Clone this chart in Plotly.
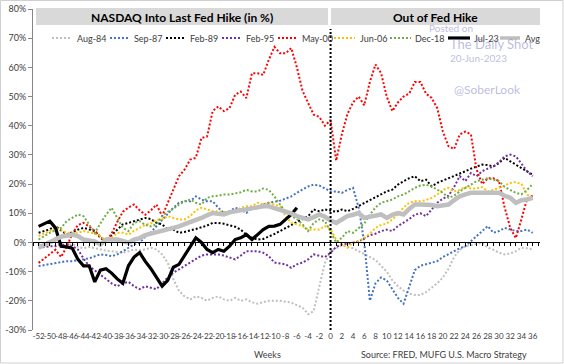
import plotly.graph_objects as go

weeks = list(range(-52, 37))
tick_weeks = list(range(-52, 37, 2))
tick_labels = [str(w) for w in tick_weeks]
y_ticks = list(range(-30, 81, 10))
y_labels = [f"{v}%" for v in y_ticks]

aug84 = [-0.7, 0, 0.5, 0.3, -0.5, -1, -0.5, -1.5, -2, -1.5,
         -2, -2.5, -2.8, -3, -3.2, -3.5, -3, -2.4, -2.7, -2.4,
         -1.8, -2.4, -4.1, -7, -12.6, -16.5, -18.5, -19.5, -18.5, -19,
         -20, -19, -18.5, -19.5, -20, -19, -20, -19.5, -20.5, -21,
         -20.5, -20, -20, -20, -20.3, -20.6, -21.5, -22.3, -24.6, -23.5,
         -15, -7, -3, -2, -1, -1.5, -2, -3, -4, -5,
         -6, -8, -10, -13, -15, -16.5, -17.5, -18, -18, -17,
         -15.5, -14, -12, -9, -5, -2.5, -1.3, -0.8, -0.5, -0.1,
         -1.8, -2.5, -3.5, -4.1, -3.8, -3, -1.8, -2, -2.4]
sep87 = [-8.1, -7.8, -7.5, -7.2, -6.9, -6.4, -6.4, -6.2, -5.8, -5.4,
         -4.8, -4.1, -4.3, -4.7, -4.1, -3, -1.8, -0.7, -0.1, 2,
         3.5, 5.6, 7.9, 10.1, 11.9, 13.6, 14.1, 14.1, 15.8, 14.7,
         14.1, 14.1, 11.9, 10.1, 10.7, 11.9, 11.3, 10.1, 11.9, 12,
         13, 13.6, 14, 14.3, 15, 15.8, 17, 18.1, 19.2, 19.8,
         19.5, 18.5, 17.5, 17.5, 17, 18, 18.7, 12, 0, -20,
         -14, -12, -13, -16, -19, -21, -15, -9.5, -8, -7.5,
         -6.9, -6.4, -5, -4, -3, -2, -1.3, 0.5, 2.2, 4,
         5.6, 3.3, 3.9, 5, 4.4, 3.9, 3.9, 4.4, 3.3]
feb89 = [3.3, 4, 4.5, 5.6, 4, 2.7, 3.5, 4.4, 5, 4.5,
         3.9, 1.6, 0.4, 2.5, 4.4, 6.2, 6.7, 7.3, 8, 8.4,
         8, 6.7, 6.2, 4.4, 4.4, 3.3, 3.6, 4, 4.6, 5.2,
         5.8, 6.7, 6.7, 6.4, 6, 5.4, 4.4, 2.7, 1.6, 1,
         1.2, 2, 2.9, 3.9, 5, 6, 7, 8, 9, 11.3,
         10.7, 11.3, 11, 10.5, 11.3, 10.7, 11.5, 12.5, 13.6, 14.7,
         15.5, 16.5, 17.5, 18.1, 19.8, 21, 22, 22.7, 21, 21.5,
         19.2, 20.4, 21.2, 21.8, 22.8, 23.6, 24.4, 25.3, 26.1, 26.7,
         26.5, 26.1, 27.2, 29, 27.8, 26.7, 25.5, 24.4, 23.2]
feb95 = [-1.8, -1.5, -1.3, -1.3, -0.7, -1, -1.3, -2.4, -5.5, -8.1,
         -9.5, -11, -12.5, -14, -15, -14, -13.5, -15, -16, -15,
         -15.5, -16, -14, -12, -10.4, -9.2, -8.1, -6.8, -5.5, -4.5,
         -4.1, -4.1, -4.1, -4.5, -5.2, -5.8, -4.5, -3, -3, -3,
         -3.5, -4.7, -6.9, -7.2, -7.5, -8.7, -7.5, -6.9, -5.8, -4.1,
         -4.6, -5, -3.5, -1.5, -0.7, -0.5, -0.1, 0.4, 1.6, 2.5,
         3, 3.9, 4.4, 3.9, 5.6, 6.7, 8, 9.5, 10, 9,
         11.3, 13.6, 15, 16, 19, 22.7, 21, 23.8, 22.7, 24.4,
         25.3, 26, 27.5, 29.5, 30.1, 29.5, 27, 24.4, 22.7]
may00 = [-7, -5.5, -4, -2.5, -5, -1.5, 3, 6, 6.7, 5.5,
         4, 2, 0.4, 3, 7, 10.5, 12, 13, 11, 9.5,
         11, 13, 9, 13.6, 18, 22.7, 25, 28.4, 29, 35.8,
         36.3, 45, 46.6, 45, 46, 50.6, 51.7, 49.5, 58, 58,
         57.4, 62.6, 67, 64.8, 64.8, 66.6, 60, 52, 47.8, 43.8,
         43, 40, 42, 28, 37, 44, 48, 50, 47, 55,
         61, 58, 50, 45, 48, 50, 51, 55, 55, 51,
         49.5, 46, 38, 33, 32, 37, 38, 37, 25, 20,
         22, 22, 21, 12, 5, 1.5, 8, 15, 16]
jun06 = [2.2, 3, 3.9, 5, 4.4, 3.3, 3.3, 3.3, 3.9, 3.5,
         3, 2.2, 0.4, 1.6, 3.3, 3.3, 2.7, 4, 5, 6,
         6.5, 7.8, 7.9, 9, 8.4, 7.9, 7.9, 9, 11, 11.9,
         11.3, 10.7, 10.7, 10.4, 10.1, 10.7, 11.9, 12.4, 12.4, 13.6,
         13, 13.6, 13, 12.4, 9, 6.7, 6.2, 5.6, 4.4, 4.4,
         4.4, 5.6, 4.5, 1, -0.7, -1.8, -0.1, 0.4, 1.5, 3,
         5, 6, 6.5, 7.9, 9.6, 12, 13.6, 14.1, 14.1, 14.5,
         15.3, 16.4, 18, 18.7, 17.5, 18, 19, 18.5, 18.5, 19,
         17.5, 18, 18.7, 19.5, 20.4, 20.7, 20, 16.4, 15.3]
dec18 = [1, 2.3, 3.3, 4.2, 5, 7.3, 8.5, 9.6, 9, 6,
         3.3, 6.5, 9.5, 11.9, 8.4, 5, 3.9, 6.7, 7.3, 6,
         5.5, 6.2, 9, 10.5, 11.5, 13, 14.1, 14.7, 13.6, 13,
         15.3, 15.8, 16, 16.4, 16.4, 16.8, 17.2, 18, 17.5, 17.5,
         18.5, 18, 15.8, 13, 10.5, 9, 8, 6.2, 3.9, 6.7,
         7.9, 7.3, 3.5, 0, 1.6, 3.9, 3.3, 5, 6.5, 9.5,
         12, 13.6, 14.1, 14.7, 15.8, 16.4, 17.5, 18.7, 19.5, 19.8,
         19.2, 18.1, 17, 15.3, 16, 17.5, 18.7, 19.8, 21, 21.5,
         22, 21.5, 21, 19, 18, 17, 16.5, 18, 20]
jul23 = [5.5, 6.5, 7.3, 5, -1.3, -1.5, -2, -5.8, -8, -8,
         -13.5, -9.5, -9, -10.5, -12.5, -14, -8, -5, -3.5, -6.5,
         -9, -12, -15, -13, -8.5, -7.5, -4.5, -1.8, 1.6, 0,
         -2.4, -3.5, -2.4, -3, -1.3, 1, 1.6, 2.7, 1, 2.7,
         4.4, 5.5, 5.6, 6.2, 8, 9.6, 11.9]
avg = [-1.8, -0.8, 0, 0.8, 2, 2.3, 2.7, 2.2, 1, 0.7,
       0.4, -0.7, 1, 1, 1, 0.5, -0.1, 1, 1.5, 2.5,
       3, 3.4, 3.9, 4.3, 5, 5.5, 6.3, 6.9, 7.8, 8.4,
       9.3, 10.1, 9.8, 9.6, 10.3, 10.7, 11, 11.3, 11.8, 12.2,
       12.4, 12.4, 11.8, 11.3, 11, 10, 9, 8.5, 7.9, 8.7,
       9.6, 8.8, 7.5, 6.7, 7.8, 9, 9.5, 10.1, 8.4, 8.7,
       9, 9.6, 8.4, 9.5, 10.1, 9.6, 11.5, 13, 13, 13,
       12.8, 12.4, 12.6, 13, 14.5, 15.8, 16.5, 17, 17, 17,
       17, 17, 17, 16, 15.3, 13.6, 14.5, 14.7, 15.3]

series = [
    ("Aug-84", aug84, "#bfbfbf", 2, "2px,2px"),
    ("Sep-87", sep87, "#4472c4", 2, "2px,2px"),
    ("Feb-89", feb89, "#000000", 2, "2px,2px"),
    ("Feb-95", feb95, "#7030a0", 2, "2px,2px"),
    ("May-00", may00, "#ff0000", 2, "2px,2px"),
    ("Jun-06", jun06, "#ffc000", 2, "2px,2px"),
    ("Dec-18", dec18, "#70ad47", 2, "2px,2px"),
    ("Jul-23", jul23, "#000000", 3.2, "solid"),
    ("Avg", avg, "#bfbfbf", 4.5, "solid"),
]

W, H = 564, 364
ML, MR, MT, MB = 33, 24, 9, 34
PW, PH = W - ML - MR, H - MT - MB


def px_x(px):
    return (px - ML) / PW


def px_y(py):
    return 1 - (py - MT) / PH


FONT = "Lato, 'Open Sans', sans-serif"

fig = go.Figure()
for name, vals, color, width, dash in series:
    fig.add_trace(go.Scatter(
        x=weeks[:len(vals)], y=vals, mode="lines", name=name,
        line=dict(color=color, width=width, dash=dash),
        showlegend=False, hoverinfo="skip"))

# dummy trace for zero-crossing axis
fig.add_trace(go.Scatter(x=[None], y=[None], xaxis="x2", showlegend=False))

shapes = []
annotations = []


def note(x, y, text, size, color, anchor="center", bold=False):
    annotations.append(dict(xref="paper", yref="paper", x=px_x(x), y=px_y(y),
                            xanchor=anchor, yanchor="middle",
                            text=f"<b>{text}</b>" if bold else text, showarrow=False,
                            font=dict(family=FONT, size=size, color=color)))


# outer frame
shapes.append(dict(type="rect", xref="paper", yref="paper",
                   x0=px_x(0.5), x1=px_x(563), y0=px_y(363), y1=px_y(0.5),
                   line=dict(color="#d0d0d0", width=1), layer="below"))
# header boxes
shapes.append(dict(type="rect", xref="paper", yref="paper",
                   x0=px_x(36), x1=px_x(328), y0=px_y(25), y1=px_y(8),
                   fillcolor="#d9d9d9", line=dict(width=0), layer="below"))
shapes.append(dict(type="rect", xref="paper", yref="paper",
                   x0=px_x(331), x1=px_x(540), y0=px_y(25), y1=px_y(8),
                   fillcolor="#d9d9d9", line=dict(width=0), layer="below"))
note(182, 17, "NASDAQ Into Last Fed Hike (in %)", 12, "#000000", bold=True)
note(435, 17, "Out of Fed Hike", 12, "#000000", bold=True)

# vertical divider at week 0
shapes.append(dict(type="line", xref="x", yref="paper", x0=0, x1=0,
                   y0=0, y1=px_y(29), line=dict(color="#000000", width=2, dash="2px,2px")))

# manual legend
legend_pos = [(52, 72, 75), (110, 130, 132), (166, 186, 188), (222, 242, 244),
              (278, 298, 300), (334, 355, 358), (390, 411, 413), (448, 470, 472),
              (500, 520, 523)]
ly = px_y(38)
for (name, vals, color, width, dash), (a, b, t) in zip(series, legend_pos):
    shapes.append(dict(type="line", xref="paper", yref="paper",
                       x0=px_x(a), x1=px_x(b), y0=ly, y1=ly,
                       line=dict(color=color, width=min(width, 3.5), dash=dash)))
    note(t, 38, name, 9, "#404040", anchor="left")

# watermark
wm = "rgba(130,130,200,0.55)"
note(451, 28, "Posted on", 10, wm)
note(492, 44, "The Daily Shot", 13, wm)
note(478, 58, "20-Jun-2023", 10, wm)
note(487, 90, "@SoberLook", 12, wm)

# axis title / source
note(267, 355, "Weeks", 9, "#404040")
note(529, 355, "Source: FRED, MUFG U.S. Macro Strategy", 9, "#404040", anchor="right")

fig.update_layout(
    width=W, height=H,
    margin=dict(l=ML, r=MR, t=MT, b=MB, autoexpand=False),
    paper_bgcolor="white", plot_bgcolor="rgba(0,0,0,0)",
    showlegend=False, hovermode=False,
    font=dict(family=FONT, size=9, color="#595959"),
    xaxis=dict(range=[-53, 37.3], tickvals=tick_weeks, ticktext=tick_labels,
               showline=False, showgrid=False, zeroline=False, ticks="",
               tickfont=dict(size=8, color="#404040"), tickangle=0, automargin=False),
    xaxis2=dict(range=[-53, 37.3], overlaying="x", anchor="free", position=30 / 110,
                showline=True, linecolor="#000000", linewidth=1,
                ticks="outside", ticklen=3, tickcolor="#000000", tickwidth=1,
                tickmode="linear", tick0=-52, dtick=1,
                showticklabels=False, showgrid=False, zeroline=False),
    yaxis=dict(range=[-30, 80], tickvals=y_ticks, ticktext=y_labels,
               showline=True, linecolor="#868686", linewidth=1,
               ticks="outside", ticklen=4, tickcolor="#868686",
               showgrid=False, zeroline=False, automargin=False,
               tickfont=dict(size=9, color="#404040")),
    shapes=shapes, annotations=annotations,
)

fig.write_html("out.html", config={"displayModeBar": False, "staticPlot": True},
               post_script="document.body.style.margin='0px';document.body.style.overflow='hidden';")
